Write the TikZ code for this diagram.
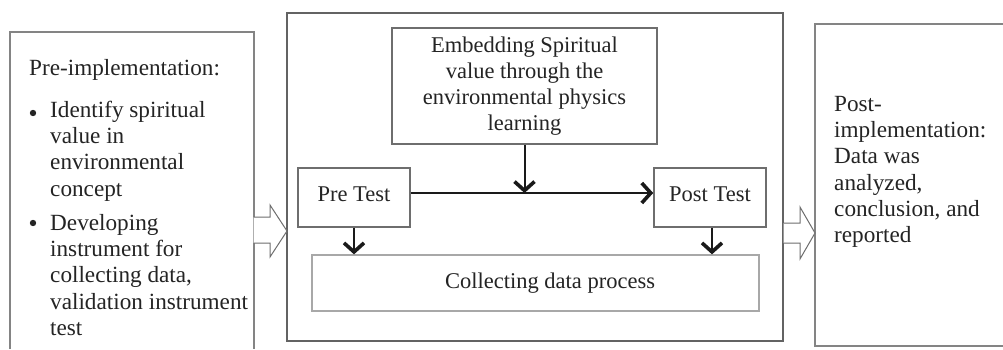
\documentclass[tikz,border=0pt]{standalone}
\usepackage{fontspec}
\setmainfont{Liberation Serif}
\usetikzlibrary{arrows.meta}
\definecolor{edgegray}{HTML}{6E6E6E}
\definecolor{lightedge}{HTML}{A8A8A8}
\definecolor{txtcol}{HTML}{242424}
\definecolor{arrowcol}{HTML}{1A1A1A}
\tikzset{
  lbl/.style={font=\fontsize{22.5bp}{26bp}\selectfont, text=txtcol, inner sep=0pt},
  sidelbl/.style={font=\fontsize{23.2bp}{26.3bp}\selectfont, text=txtcol, inner sep=0pt},
  outerline/.style={draw=edgegray!85, line width=1.8bp},
  boxnode/.style={draw=edgegray, line width=1.6bp, inner sep=0pt, lbl},
  lightbox/.style={draw=lightedge, line width=1.3bp, inner sep=0pt, lbl},
  flowarrow/.style={draw=arrowcol, line width=2.9bp, -{Straight Barb[length=9bp,width=20bp,line width=3.6bp]}},
  droparrow/.style={draw=arrowcol, line width=2bp, -{Straight Barb[length=9bp,width=20bp,line width=3.6bp]}},
  hollowarrow/.style={draw=edgegray, line width=1bp, fill=white, line join=miter}
}
\begin{document}
\begin{tikzpicture}[x=1bp,y=-1bp]
\useasboundingbox[fill=white] (0,0) rectangle (1003,349);

% left open box
\coordinate (lbl) at (10,349);
\coordinate (lbr) at (254,349);
\draw[outerline] (lbl) |- (254,32) -- (lbr);
\node[sidelbl, anchor=west] (prehead) at (29,70) {Pre-implementation:};
\node[sidelbl, anchor=west, align=left] (item1) at (50,151) {Identify spiritual\\value in\\environmental\\concept};
\node[sidelbl, anchor=west, align=left] (item2) at (50,275) {Developing\\instrument for\\collecting data,\\validation instrument\\test};
\fill[txtcol] (33,113) circle (3.2bp);
\fill[txtcol] (33,223) circle (3.2bp);

% right open box
\draw[outerline] (1003,24) -| (815,346) -- (1003,346);
\node[sidelbl, anchor=west, align=left] (posttext) at (834,172) {Post-\\implementation:\\Data was\\analyzed,\\conclusion, and\\reported};

% middle frame and its boxes
\node[draw=edgegray!90!black, line width=1.8bp, minimum width=496bp, minimum height=328bp, inner sep=0pt] (mid) at (535,177) {};
\node[boxnode, minimum width=265bp, minimum height=116bp, align=center] (emb) at (524.5,86) {Embedding Spiritual\\value through the\\environmental physics\\learning};
\node[boxnode, minimum width=112bp, minimum height=59bp] (pre) at (354,197.5) {\raisebox{7bp}{Pre Test}};
\node[boxnode, minimum width=112bp, minimum height=59bp] (post) at (710,197.5) {\raisebox{7bp}{Post Test}};
\node[lightbox, minimum width=447bp, minimum height=56bp] (coll) at (535.5,283) {\hspace*{29bp}Collecting data process};

% connectors
\coordinate (a1) at ([yshift=4.5bp]pre.east);
\coordinate (a2) at ([yshift=4.5bp]post.west);
\draw[flowarrow] (a1) -- (a2);
\draw[droparrow] (emb.south) -- (emb.south |- a1);
\draw[droparrow] (pre.south) -- (pre.south |- coll.north);
\draw[droparrow] ([xshift=2bp]post.south) -- ([xshift=2bp]post.south |- coll.north);

% hollow block arrows between the stages
\draw[hollowarrow] (253.5,217) -- (270,217) -- (270,205) -- (287,231) -- (270,257) -- (270,243) -- (253.5,243);
\draw[hollowarrow] (783.5,223) -- (800,223) -- (800,207) -- (815,233) -- (800,259) -- (800,243) -- (783.5,243);
\end{tikzpicture}
\end{document}
